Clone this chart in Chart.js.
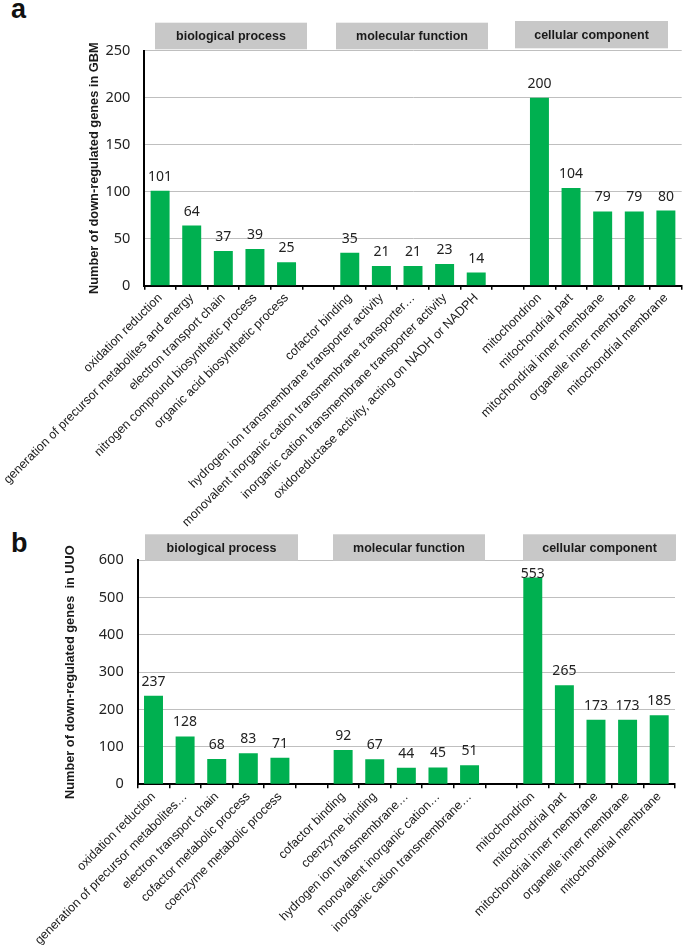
<!DOCTYPE html>
<html>
<head>
<meta charset="utf-8">
<script src="https://cdn.jsdelivr.net/npm/chart.js@4.4.1/dist/chart.umd.min.js"></script>
<style>
  html, body { margin: 0; padding: 0; background: #fff; }
  #wrap { position: relative; width: 685px; height: 945px; overflow: hidden; }
  canvas { position: absolute; left: 0; }
  .panel { position: absolute; left: 11px; font: bold 27px "Liberation Sans", Arial, sans-serif; line-height: 27px; color: #111; }
</style>
</head>
<body>
<div id="wrap">
  <div class="panel" style="top:-4px">a</div>
  <div class="panel" style="top:530px">b</div>
  <canvas id="gbm" width="685" height="536" style="top:0"></canvas>
  <canvas id="uuo" width="685" height="413" style="top:532px"></canvas>
</div>
<script>
// GO groups
const groupNames = ['biological process', 'molecular function', 'cellular component'];

// panel a: GBM ('' = gap between groups)
const gbmCategories = [
    'oxidation reduction',
    'generation of precursor metabolites and energy',
    'electron transport chain',
    'nitrogen compound biosynthetic process',
    'organic acid biosynthetic process',
    '',
    'cofactor binding',
    'hydrogen ion transmembrane transporter activity',
    'monovalent inorganic cation transmembrane transporter\u2026',
    'inorganic cation transmembrane transporter activity',
    'oxidoreductase activity, acting on NADH or NADPH',
    '',
    'mitochondrion',
    'mitochondrial part',
    'mitochondrial inner membrane',
    'organelle inner membrane',
    'mitochondrial membrane'
];
const gbmValues = [101, 64, 37, 39, 25, null, 35, 21, 21, 23, 14, null, 200, 104, 79, 79, 80];
const gbmYTicks = [0, 50, 100, 150, 200, 250];

// panel b: UUO
const uuoCategories = [
    'oxidation reduction',
    'generation of precursor metabolites\u2026',
    'electron transport chain',
    'cofactor metabolic process',
    'coenzyme metabolic process',
    '',
    'cofactor binding',
    'coenzyme binding',
    'hydrogen ion transmembrane\u2026',
    'monovalent inorganic cation\u2026',
    'inorganic cation transmembrane\u2026',
    '',
    'mitochondrion',
    'mitochondrial part',
    'mitochondrial inner membrane',
    'organelle inner membrane',
    'mitochondrial membrane'
];
const uuoValues = [237, 128, 68, 83, 71, null, 92, 67, 44, 45, 51, null, 553, 265, 173, 173, 185];
const uuoYTicks = [0, 100, 200, 300, 400, 500, 600];

const GREEN = '#00b050';
const LABEL_FONT = '"Liberation Sans", Arial, sans-serif';
const NUM_FONT = '"Noto Sans", sans-serif';

// numbers above the bars
const valueLabels = {
    id: 'valueLabels',
    afterDatasetsDraw(chart) {
        const { ctx, chartArea } = chart;
        const meta = chart.getDatasetMeta(0);
        const values = chart.data.datasets[0].data;
        ctx.save();
        ctx.font = '14px ' + NUM_FONT;
        ctx.fillStyle = '#222';
        ctx.textAlign = 'center';
        ctx.textBaseline = 'alphabetic';
        meta.data.forEach((bar, i) => {
            if (values[i] == null) return;
            const y = Math.max(bar.y - 10, chartArea.top + 18);
            ctx.fillText(String(values[i]), bar.x, y);
        });
        ctx.restore();
    }
};

// grey boxes with the group names
const groupHeaders = {
    id: 'groupHeaders',
    afterDraw(chart, args, opts) {
        const ctx = chart.ctx;
        ctx.save();
        ctx.font = 'bold 12.5px ' + LABEL_FONT;
        ctx.textAlign = 'center';
        ctx.textBaseline = 'middle';
        opts.boxes.forEach((b, i) => {
            ctx.fillStyle = '#c8c8c8';
            ctx.fillRect(b[0], b[2], b[1] - b[0], b[3] - b[2]);
            ctx.fillStyle = '#1a1a1a';
            ctx.fillText(groupNames[i], (b[0] + b[1]) / 2, (b[2] + b[3]) / 2 + 1);
        });
        ctx.restore();
    }
};

function makeChart(id, labels, values, yTicks, yTitle, lay) {
    const step = yTicks[1] - yTicks[0];
    return new Chart(document.getElementById(id), {
        type: 'bar',
        data: {
            labels: labels,
            datasets: [{
                data: values,
                backgroundColor: GREEN,
                borderWidth: 0,
                categoryPercentage: 1,
                barPercentage: 0.6
            }]
        },
        options: {
            responsive: false,
            animation: false,
            events: [],
            layout: { padding: { top: lay.top, right: lay.right, left: 0, bottom: 0 } },
            plugins: {
                legend: { display: false },
                tooltip: { enabled: false },
                groupHeaders: { boxes: lay.boxes }
            },
            scales: {
                x: {
                    grid: {
                        display: true,
                        drawOnChartArea: false,
                        drawTicks: true,
                        tickLength: 4,
                        color: '#000',
                        lineWidth: 1.5,
                        offset: true
                    },
                    border: { display: true, color: '#000', width: 2 },
                    ticks: {
                        autoSkip: false,
                        minRotation: 45,
                        maxRotation: 45,
                        padding: 1,
                        color: '#1a1a1a',
                        font: { family: LABEL_FONT, size: 12.5 }
                    },
                    afterFit: s => { s.height = lay.xHeight; }
                },
                y: {
                    min: yTicks[0],
                    max: yTicks[yTicks.length - 1],
                    grid: { color: '#bfbfbf', lineWidth: 1, drawTicks: false },
                    border: { display: true, color: '#000', width: 2 },
                    ticks: {
                        stepSize: step,
                        padding: 14,
                        color: '#222',
                        font: { family: NUM_FONT, size: 14.5 }
                    },
                    title: {
                        display: true,
                        text: yTitle,
                        color: '#1a1a1a',
                        font: { family: LABEL_FONT, size: 12.8, weight: 'bold' },
                        padding: { top: lay.titleX, bottom: 0 }
                    },
                    afterFit: s => { s.width = lay.yWidth; }
                }
            }
        },
        plugins: [valueLabels, groupHeaders]
    });
}

makeChart('gbm', gbmCategories, gbmValues, gbmYTicks,
    'Number of down-regulated genes in GBM', {
        top: 50.7, right: 3.3, xHeight: 536 - 285.7, yWidth: 144.3, titleX: 87,
        boxes: [[155, 307, 22.7, 49.3], [336, 488, 22.7, 49.3], [515, 668, 21, 48.3]]
    });

makeChart('uuo', uuoCategories, uuoValues, uuoYTicks,
    'Number of down-regulated genes  in UUO', {
        top: 28, right: 10, xHeight: 945 - 784.3, yWidth: 137.7, titleX: 63,
        boxes: [[145, 298, 2.3, 28.7], [333, 485, 2.3, 28.7], [523, 676, 2.3, 28.7]]
    });
</script>
</body>
</html>
